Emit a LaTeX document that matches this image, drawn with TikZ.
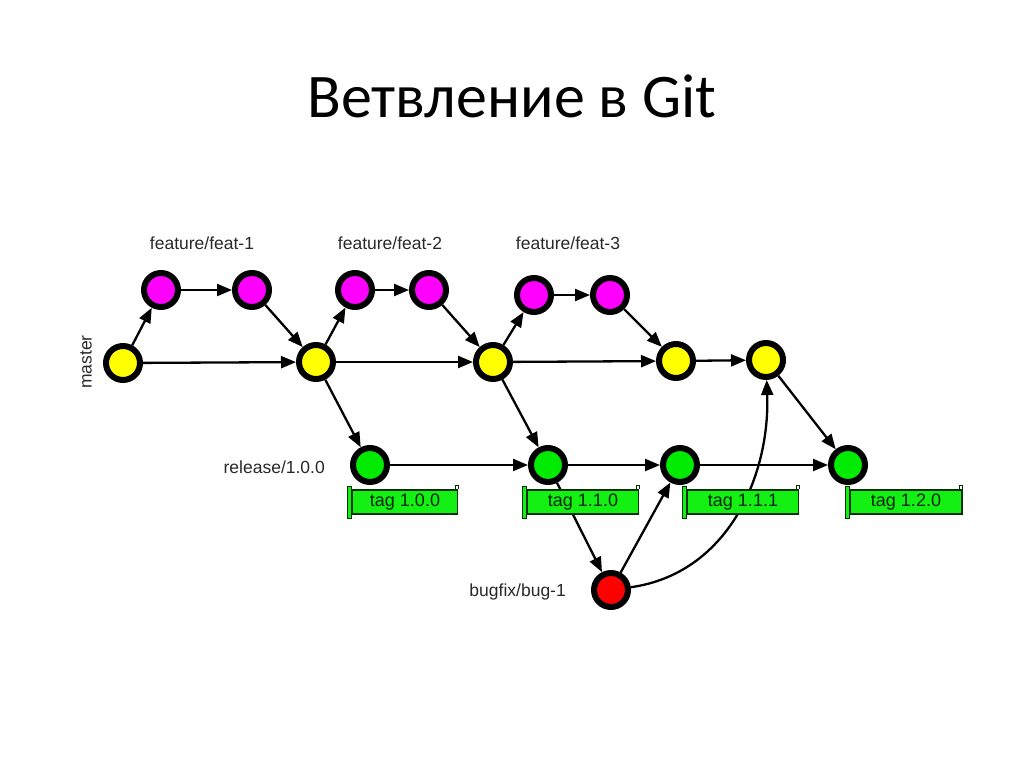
\documentclass[tikz,border=0pt]{standalone}
\usepackage{fontspec}
\setmainfont{Liberation Sans}
\newfontfamily\titlefont{Carlito}
\usetikzlibrary{arrows.meta}
\definecolor{cmag}{RGB}{255,0,255}
\definecolor{cyel}{RGB}{255,255,0}
\definecolor{cgrn}{RGB}{0,235,0}
\definecolor{cred}{RGB}{255,0,0}
\definecolor{ctag}{RGB}{20,240,20}
\definecolor{clabel}{RGB}{40,40,40}
\tikzset{
  commit/.style={circle, draw=black, line width=6pt, minimum size=34pt, inner sep=0pt, outer sep=3pt},
  feat/.style={commit, fill=cmag},
  mast/.style={commit, fill=cyel},
  rel/.style={commit, fill=cgrn},
  bug/.style={commit, fill=cred},
  edge/.style={line width=2.3pt, -{Triangle[length=15pt,width=12pt]}},
  lbl/.style={font=\fontsize{17.5}{19}\selectfont, text=clabel, inner sep=0pt},
  tagbox/.style={draw=black!80!green, line width=1.4pt, fill=ctag, minimum width=#1, minimum height=24pt, inner sep=0pt, font=\fontsize{18}{20}\selectfont, text=black!85!green},
}
\newcommand{\tagflag}[1]{%
  \fill[ctag, draw=black!80!green, line width=1.2pt] ([xshift=-4pt,yshift=3pt]#1.north west) rectangle ([yshift=-4pt]#1.south west);
  \draw[black!80!green, line width=1.4pt] ([xshift=-3pt]#1.north east) -- ++(0,4pt) -- ++(3pt,0) -- (#1.north east);
}
\begin{document}
\begin{tikzpicture}[x=1pt,y=-1pt]
\useasboundingbox (0,0) rectangle (1024,767);
\node[font=\titlefont\fontsize{62}{68}\selectfont] (title) at (512,96) {Ветвление в Git};

% master
\node[mast] (m1) at (123,363) {};
\node[mast] (m2) at (316,362) {};
\node[mast] (m3) at (493,362) {};
\node[mast] (m4) at (676,361) {};
\node[mast] (m5) at (766,360) {};
% features
\node[feat] (f1a) at (161,290) {};
\node[feat] (f1b) at (252,290) {};
\node[feat] (f2a) at (355,290) {};
\node[feat] (f2b) at (429,290) {};
\node[feat] (f3a) at (534,295) {};
\node[feat] (f3b) at (610,295) {};
% release
\node[rel] (r1) at (370,465) {};
\node[rel] (r2) at (548,465) {};
\node[rel] (r3) at (680,465) {};
\node[rel] (r4) at (848,465) {};
% bugfix
\node[bug] (b1) at (611,590) {};

% labels
\node[lbl] (lf1) at (202,243) {feature/feat-1};
\node[lbl] (lf2) at (390,243) {feature/feat-2};
\node[lbl] (lf3) at (568,243) {feature/feat-3};
\node[lbl, rotate=90] (lm) at (86,362) {master};
\node[lbl, anchor=east] (lr) at (325,467) {release/1.0.0};
\node[lbl, anchor=east] (lb) at (566,592) {bugfix/bug-1};

% edges behind the tags
\draw[edge] (r2) -- (b1);
\draw[edge] (b1) to[out=8, in=-88, looseness=1.0] (m5);

% tags
\node[tagbox=105pt] (t1) at (405,502) {tag 1.0.0};
\node[tagbox=111pt] (t2) at (583,502) {tag 1.1.0};
\node[tagbox=111pt] (t3) at (743,502) {tag 1.1.1};
\node[tagbox=112pt] (t4) at (906,502) {tag 1.2.0};
\tagflag{t1}
\tagflag{t2}
\tagflag{t3}
\tagflag{t4}

% edges
\draw[edge] (m1) -- (f1a);
\draw[edge] (f1a) -- (f1b);
\draw[edge] (f1b) -- (m2);
\draw[edge] (m1) -- (m2);
\draw[edge] (m2) -- (f2a);
\draw[edge] (f2a) -- (f2b);
\draw[edge] (f2b) -- (m3);
\draw[edge] (m2) -- (m3);
\draw[edge] (m2) -- (r1);
\draw[edge] (m3) -- (f3a);
\draw[edge] (f3a) -- (f3b);
\draw[edge] (f3b) -- (m4);
\draw[edge] (m3) -- (m4);
\draw[edge] (m3) -- (r2);
\draw[edge] (m4) -- (m5);
\draw[edge] (m5) -- (r4);
\draw[edge] (r1) -- (r2);
\draw[edge] (r2) -- (r3);
\draw[edge] (r3) -- (r4);
\draw[edge] (b1) -- (r3);
\end{tikzpicture}
\end{document}
